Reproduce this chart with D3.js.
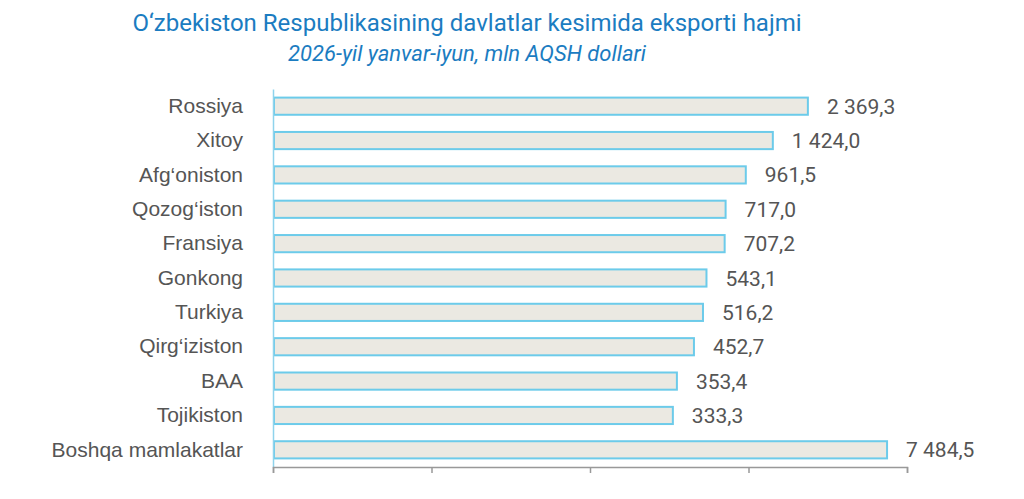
<!DOCTYPE html>
<html>
<head>
<meta charset="utf-8">
<script src="https://cdn.jsdelivr.net/npm/d3@7"></script>
<style>
  body { margin: 0; background: #fff; }
  svg { display: block; font-family: Roboto, "Noto Sans", sans-serif; }
</style>
</head>
<body>
<div id="wrapper"></div>
<script>
// data
const countries = ["Rossiya", "Xitoy", "Afg\u2018oniston", "Qozog\u2018iston", "Fransiya", "Gonkong",
  "Turkiya", "Qirg\u2018iziston", "BAA", "Tojikiston", "Boshqa mamlakatlar"];
const exportValues = [2369.3, 1424.0, 961.5, 717.0, 707.2, 543.1, 516.2, 452.7, 353.4, 333.3, 7484.5];
const axisTicks = [1, 10, 100, 1000, 10000];
const title = "O\u2018zbekiston Respublikasining davlatlar kesimida eksporti hajmi";
const subtitle = "2026-yil yanvar-iyun, mln AQSH dollari";

function drawChart() {
  const dataset = countries.map((c, i) => ({ country: c, value: exportValues[i] }));

  // 2. dimensions
  let dimensions = {
    width: 1024,
    height: 499,
    margin: { top: 89, right: 116, bottom: 31, left: 273 },
  };
  dimensions.boundedWidth = dimensions.width - dimensions.margin.left - dimensions.margin.right;
  dimensions.boundedHeight = dimensions.height - dimensions.margin.top - dimensions.margin.bottom;

  // 3. canvas
  const wrapper = d3.select("#wrapper")
    .append("svg")
    .attr("width", dimensions.width)
    .attr("height", dimensions.height);

  wrapper.append("text")
    .attr("x", 467).attr("y", 31)
    .attr("text-anchor", "middle")
    .attr("fill", "#1b7cc1")
    .style("font-size", "24px")
    .text(title);

  wrapper.append("text")
    .attr("x", 467).attr("y", 61)
    .attr("text-anchor", "middle")
    .attr("fill", "#1b7cc1")
    .style("font-size", "22px")
    .style("font-style", "italic")
    .text(subtitle);

  const bounds = wrapper.append("g")
    .attr("transform", `translate(${dimensions.margin.left}, ${dimensions.margin.top})`);

  // 4. scales
  const xScale = d3.scaleLog()
    .domain([1, 10000])
    .range([0, 634]);

  const yScale = d3.scaleBand()
    .domain(countries)
    .range([0, 378])
    .paddingInner(0.5)
    .paddingOuter(0.25);

  const fmt = d3.formatLocale({ decimal: ",", thousands: "\u00a0", grouping: [3] }).format(",.1f");

  // 5. bars
  bounds.append("g")
    .selectAll("rect")
    .data(dataset)
    .join("rect")
    .attr("x", 1)
    .attr("y", (d) => yScale(d.country))
    .attr("width", (d) => xScale(d.value) - 1)
    .attr("height", yScale.bandwidth())
    .attr("fill", "#ebe9e2")
    .attr("stroke", "#6ccbea")
    .attr("stroke-width", 2);

  bounds.append("g")
    .selectAll("text")
    .data(dataset)
    .join("text")
    .attr("x", (d) => xScale(d.value) + 19)
    .attr("y", (d) => yScale(d.country) + yScale.bandwidth() / 2)
    .attr("dy", "0.36em")
    .attr("fill", "#555")
    .style("font-size", "21px")
    .text((d) => fmt(d.value));

  // 6. peripherals
  const yAxis = bounds.append("g")
    .call(d3.axisLeft(yScale).tickSize(0).tickPadding(30));
  yAxis.select(".domain").attr("stroke", "#8fd3ec").attr("stroke-width", 1.5);
  yAxis.selectAll("text").attr("fill", "#555").style("font-size", "21px");

  const xAxis = bounds.append("g")
    .attr("transform", `translate(0, ${378})`)
    .call(d3.axisBottom(xScale).tickValues(axisTicks).tickSize(6).tickSizeOuter(6).tickFormat(""));
  xAxis.select(".domain").attr("stroke", "#999").attr("stroke-width", 1.5);
  xAxis.selectAll(".tick line").attr("stroke", "#999").attr("stroke-width", 1.5);
}
drawChart();
</script>
</body>
</html>
